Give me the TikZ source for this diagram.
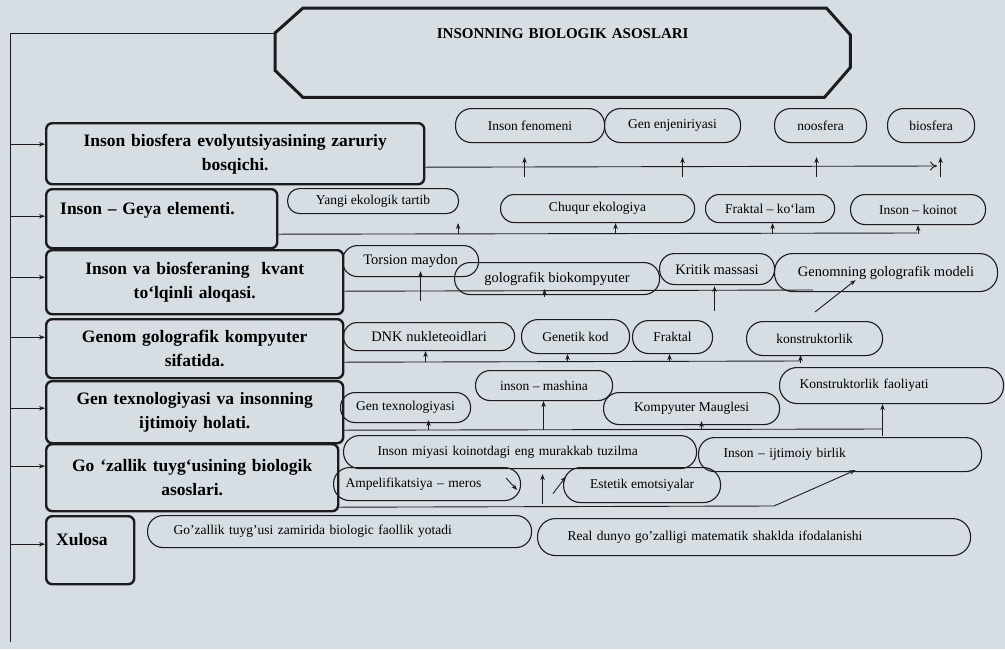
\documentclass[tikz,border=0pt]{standalone}
\usepackage{fontspec}
\setmainfont{Liberation Serif}
\usetikzlibrary{arrows.meta,calc}
\definecolor{bg}{RGB}{214,221,227}
\definecolor{ink}{RGB}{28,28,32}
\begin{document}
\begin{tikzpicture}[x=1pt,y=-1pt,
  mainbox/.style={draw=ink, line width=2.4pt, rounded corners=6pt, inner sep=0pt,
    font=\fontsize{17.5}{24}\selectfont\bfseries, align=center, anchor=north west},
  lbl/.style={draw=ink, line width=1.1pt, rounded corners=16pt, inner sep=0pt,
    font=\fontsize{13.5}{16}\selectfont, anchor=north west},
  big/.style={font=\fontsize{14.5}{17}\selectfont},
  conn/.style={draw=ink, line width=0.9pt},
  arr/.style={conn, -{Stealth[length=6pt,width=4.5pt]}},
]
\useasboundingbox (0,0) rectangle (1005,649);
\fill[bg] (0,0) rectangle (1005,649);

% title
\node[inner sep=0pt, text width=575pt, align=center, text height=30pt, text depth=59pt,
  font=\fontsize{15}{18}\selectfont\bfseries, anchor=north west] (title) at (275,8)
  {INSONNING BIOLOGIK ASOSLARI};
\draw[ink, line width=3pt, line join=miter]
  ([xshift=28pt]title.north west) -- ([xshift=-24pt]title.north east)
  -- ([yshift=-27pt]title.north east) -- ([yshift=30pt]title.south east)
  -- ([xshift=-26pt]title.south east) -- ([xshift=28pt]title.south west)
  -- ([yshift=27pt]title.south west) -- ([yshift=-25pt]title.north west) -- cycle;

% spine
\coordinate (sp1) at (10,33);
\coordinate (sp2) at (10,642);
\draw[conn] ([yshift=-25pt]title.north west) -- (sp1) -- (sp2);

% main boxes
\node[mainbox, text width=378pt, minimum height=61pt] (b1) at (45,122)
  {Inson biosfera evolyutsiyasining zaruriy\\bosqichi.};
\node[mainbox, inner xsep=14pt, text width=203pt, align=left, text height=25pt, text depth=34pt] (b2) at (45,188)
  {Inson – Geya elementi.};
\node[mainbox, text width=297pt, minimum height=64pt] (b3) at (45,249)
  {Inson va biosferaning\ \ kvant\\to‘lqinli aloqasi.};
\node[mainbox, text width=297pt, minimum height=59pt] (b4) at (45,318)
  {Genom golografik kompyuter\\sifatida.};
\node[mainbox, text width=297pt, minimum height=62pt] (b5) at (45,380)
  {Gen texnologiyasi va insonning\\ijtimoiy holati.};
\node[mainbox, text width=292pt, minimum height=67pt] (b6) at (45,443)
  {Go ‘zallik tuyg‘usining biologik\\asoslari.};
\node[mainbox, inner xsep=10pt, text width=68pt, align=left, text height=29pt, text depth=39pt] (b7) at (45,515)
  {Xulosa};

% arrows from spine
\draw[arr] ($(sp1|-b1.west)+(0,-9.5)$) -- ($(b1.west)+(0,-9.5)$);
\draw[arr] ($(sp1|-b2.west)+(0,-2.5)$) -- ($(b2.west)+(0,-2.5)$);
\draw[arr] ($(sp1|-b3.west)+(0,-5)$) -- ($(b3.west)+(0,-5)$);
\draw[arr] ($(sp1|-b4.west)+(0,-11.5)$) -- ($(b4.west)+(0,-11.5)$);
\draw[arr] ($(sp1|-b5.west)+(0,-4)$) -- ($(b5.west)+(0,-4)$);
\draw[arr] ($(sp1|-b6.west)+(0,-11.5)$) -- ($(b6.west)+(0,-11.5)$);
\draw[arr] ($(sp1|-b7.west)+(0,-6)$) -- ($(b7.west)+(0,-6)$);

% row 1
\node[lbl, minimum width=149pt, minimum height=34pt] (e11) at (455,108) {Inson fenomeni};
\node[lbl, minimum width=136pt, minimum height=34pt] (e12) at (604,108) {Gen enjeniriyasi};
\node[lbl, minimum width=92pt, minimum height=34pt] (e13) at (774,108) {noosfera};
\node[lbl, minimum width=87pt, minimum height=34pt] (e14) at (887,108) {biosfera};
\coordinate (r1e) at (937,166);
\draw[conn, -{To[length=7pt,width=9pt]}] ($(b1.east)+(0,13.5)$) -- (r1e);
\draw[arr] ($(e11.south)+(-5.5,34)$) -- ($(e11.south)+(-5.5,14)$);
\draw[arr] ($(e12.south)+(10,34)$) -- ($(e12.south)+(10,14)$);
\draw[arr] ($(e13.south)+(-4,34)$) -- ($(e13.south)+(-4,14)$);
\draw[arr] ($(e14.south)+(9.5,34)$) -- ($(e14.south)+(9.5,14)$);

% row 2
\node[lbl, minimum width=171pt, minimum height=25pt, rounded corners=12pt] (e21) at (287,188) {Yangi ekologik tartib};
\node[lbl, minimum width=194pt, minimum height=28pt, rounded corners=13.5pt] (e22) at (500,194) {Chuqur ekologiya};
\node[lbl, minimum width=129pt, minimum height=28pt, rounded corners=13.5pt] (e23) at (705,194) {Fraktal – ko‘lam};
\node[lbl, minimum width=135pt, minimum height=30pt, rounded corners=14.5pt] (e24) at (850,194) {Inson – koinot};
\coordinate (r2e) at (917,233);
\draw[conn] ($(b2.east)+(0,15.5)$) -- (r2e);
\draw[arr] ($(e21.south east)+(-1,20)$) -- ($(e21.south east)+(-1,9)$);
\draw[arr] ($(e22.south)+(18,11)$) -- ($(e22.south)+(18,0)$);
\draw[arr] ($(e23.south)+(2.5,11)$) -- ($(e23.south)+(2.5,0)$);
\draw[arr] ($(e24.south)+(0,9)$) -- ($(e24.south)+(0,0)$);

% row 3
\node[lbl, big, minimum width=136pt, minimum height=31pt, rounded corners=15pt] (e31) at (342,245) {Torsion maydon};
\node[lbl, big, minimum width=205pt, minimum height=32pt, rounded corners=15.5pt] (e32) at (454,262) {golografik biokompyuter};
\node[lbl, big, minimum width=115pt, minimum height=31pt, rounded corners=15pt] (e33) at (659,253) {Kritik massasi};
\node[lbl, big, minimum width=223pt, minimum height=38pt, rounded corners=18pt] (e34) at (774,253) {Genomning golografik modeli};
\coordinate (r3e) at (813,290);
\coordinate (c34) at (815,312);
\draw[conn] ($(b3.east)+(0,9)$) -- (r3e);
\draw[arr] ($(e31.south)+(10,24)$) -- ($(e31.south)+(10,-6)$);
\draw[arr] ($(e32.south)+(-12.5,2)$) -- ($(e32.south)+(-12.5,-6)$);
\draw[arr] ($(e33.south)+(-2.5,26)$) -- ($(e33.south)+(-2.5,1)$);
\draw[arr] (c34) -- ($(e34.south)+(-30.5,-12)$);

% row 4
\node[lbl, big, minimum width=171pt, minimum height=28pt, rounded corners=13.5pt] (e41) at (343,322) {DNK nukleteoidlari};
\node[lbl, minimum width=108pt, minimum height=34pt, rounded corners=16.5pt] (e42) at (521,319) {Genetik kod};
\node[lbl, minimum width=80pt, minimum height=33pt] (e43) at (632,320) {Fraktal};
\node[lbl, minimum width=136pt, minimum height=34pt, rounded corners=16.5pt] (e44) at (746,321) {konstruktorlik};
\coordinate (r4e) at (800,361);
\draw[conn] ($(b4.east)+(0,13.5)$) -- (r4e);
\draw[arr] ($(e41.south)+(-3.5,11)$) -- ($(e41.south)+(-3.5,0)$);
\draw[arr] ($(e42.south)+(-8,8)$) -- ($(e42.south)+(-8,0)$);
\draw[arr] ($(e43.south)+(-3,8)$) -- ($(e43.south)+(-3,0)$);
\draw[arr] ($(e44.south)+(-14,7)$) -- ($(e44.south)+(-14,-1)$);

% row 5
\node[lbl, minimum width=130pt, minimum height=30pt, rounded corners=14.5pt] (e51) at (340,392) {Gen texnologiyasi};
\node[lbl, minimum width=137pt, minimum height=30pt, rounded corners=14.5pt] (e52) at (475,370) {inson – mashina};
\node[lbl, minimum width=176pt, minimum height=32pt, rounded corners=15.5pt] (e53) at (603,392) {Kompyuter Mauglesi};
\node[lbl, minimum width=224pt, minimum height=36pt, rounded corners=17.5pt, inner xsep=20pt, text width=184pt, align=left] (e54) at (779,367) {Konstruktorlik faoliyati};
\coordinate (r5e) at (882,429);
\draw[conn] ($(b5.east)+(0,18)$) -- (r5e);
\draw[arr] ($(e51.south)+(23,7)$) -- ($(e51.south)+(23,-3)$);
\draw[arr] ($(e52.south)+(-0.5,29)$) -- ($(e52.south)+(-0.5,0)$);
\draw[arr] ($(e53.south)+(10,5)$) -- ($(e53.south)+(10,-4)$);
\draw[arr] ($(e54.south)+(-9,32)$) -- ($(e54.south)+(-9,0)$);

% row 6
\node[lbl, minimum width=353pt, minimum height=33pt, inner xsep=34pt, text width=285pt, align=left] (e61) at (343,435) {Inson miyasi koinotdagi eng murakkab tuzilma};
\node[lbl, minimum width=187pt, minimum height=33pt, inner xsep=12pt, text width=163pt, align=left] (e62) at (333,467) {Ampelifikatsiya – meros};
\node[lbl, minimum width=157pt, minimum height=35pt, rounded corners=17pt] (e63) at (563,467) {Estetik emotsiyalar};
\node[lbl, minimum width=283pt, minimum height=34pt, inner xsep=25pt, text width=233pt, align=left] (e64) at (698,437) {Inson – ijtimoiy birlik};
\coordinate (c6) at (774,506);
\draw[arr] ($(b6.east)+(0,29.5)$) -- (c6) -- ($(e64.south)+(15.5,-2)$);
\draw[arr] ($(e61.south)+(22.5,35)$) -- ($(e61.south)+(22.5,5)$);
\draw[arr] ($(e62.east)+(-15,-6)$) -- ($(e62.east)+(-4,6)$);
\draw[arr] ($(e63.west)+(-10,8.5)$) -- ($(e63.west)+(3,-8.5)$);

% row 7
\node[lbl, minimum width=384pt, minimum height=32pt, inner xsep=26pt, text width=332pt, align=left, rounded corners=15.5pt] (e71) at (147,515) {Go’zallik tuyg’usi zamirida biologic faollik yotadi};
\node[lbl, minimum width=433pt, minimum height=37pt, inner xsep=30pt, text width=373pt, align=left, rounded corners=18pt] (e72) at (537,518) {Real dunyo go’zalligi matematik shaklda ifodalanishi};
\end{tikzpicture}
\end{document}
